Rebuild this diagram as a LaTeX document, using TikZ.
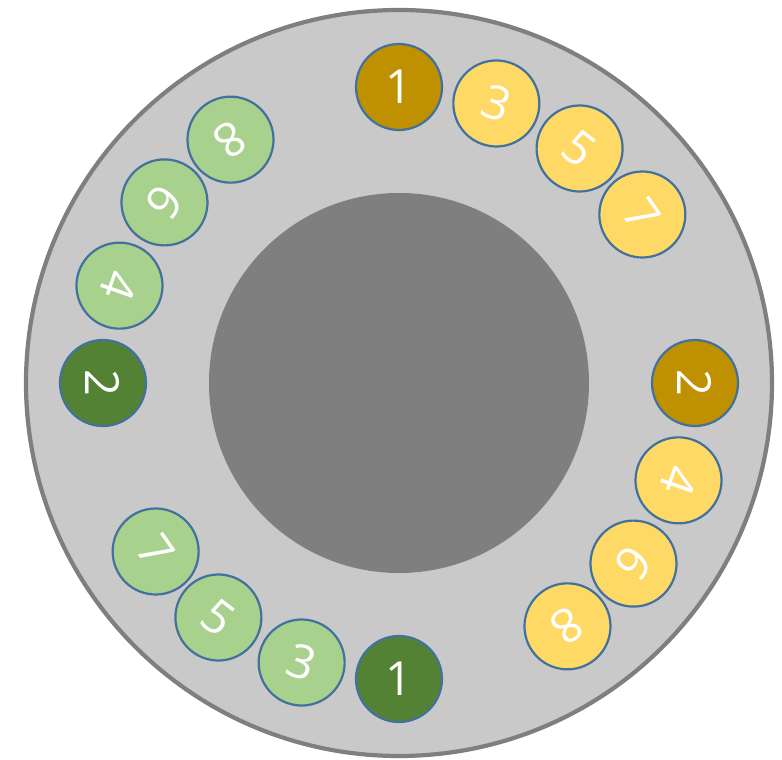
\documentclass[tikz,border=0pt]{standalone}
\usepackage{fontspec}
\setmainfont{Open Sans}
\definecolor{ringgray}{HTML}{C9C9C9}
\definecolor{rimgray}{HTML}{7F7F7F}
\definecolor{hubgray}{HTML}{7F7F7F}
\definecolor{darkgold}{HTML}{BF9000}
\definecolor{lightgold}{HTML}{FFD966}
\definecolor{darkgreen}{HTML}{548235}
\definecolor{lightgreen}{HTML}{A9D18E}
\definecolor{edgeblue}{HTML}{41719C}
\begin{document}
\begin{tikzpicture}[x=1pt,y=1pt,
  puck/.style={circle,draw=edgeblue,line width=2.2pt,minimum size=86pt,inner sep=0pt,
    text=white,font=\fontsize{47}{47}\selectfont}]
\useasboundingbox (-399,-377) rectangle (383,383);
\node[circle,fill=ringgray,draw=rimgray,line width=4.2pt,minimum size=746pt,inner sep=0pt] (ring) at (0,0) {};
\node[circle,fill=hubgray,minimum size=380pt,inner sep=0pt] (hub) at (0,0) {};
% yellow group
\node[puck,fill=darkgold,rotate=0] (y1) at (90:296) {1};
\node[puck,fill=lightgold,rotate=-19.2] (y3) at (90-19.2:296) {3};
\node[puck,fill=lightgold,rotate=-37.6] (y5) at (90-37.6:296) {5};
\node[puck,fill=lightgold,rotate=-55.3] (y7) at (90-55.3:296) {7};
\node[puck,fill=darkgold,rotate=-90] (y2) at (0:296) {2};
\node[puck,fill=lightgold,rotate=-109.2] (y4) at (-19.2:296) {4};
\node[puck,fill=lightgold,rotate=-127.6] (y6) at (-37.6:296) {6};
\node[puck,fill=lightgold,rotate=-145.3] (y8) at (-55.3:296) {8};
% green group
\node[puck,fill=darkgreen,rotate=0] (g1) at (270:296) {1};
\node[puck,fill=lightgreen,rotate=-19.2] (g3) at (270-19.2:296) {3};
\node[puck,fill=lightgreen,rotate=-37.6] (g5) at (270-37.6:296) {5};
\node[puck,fill=lightgreen,rotate=-55.3] (g7) at (270-55.3:296) {7};
\node[puck,fill=darkgreen,rotate=-90] (g2) at (180:296) {2};
\node[puck,fill=lightgreen,rotate=-109.2] (g4) at (180-19.2:296) {4};
\node[puck,fill=lightgreen,rotate=-127.6] (g6) at (180-37.6:296) {6};
\node[puck,fill=lightgreen,rotate=-145.3] (g8) at (180-55.3:296) {8};
\end{tikzpicture}
\end{document}
